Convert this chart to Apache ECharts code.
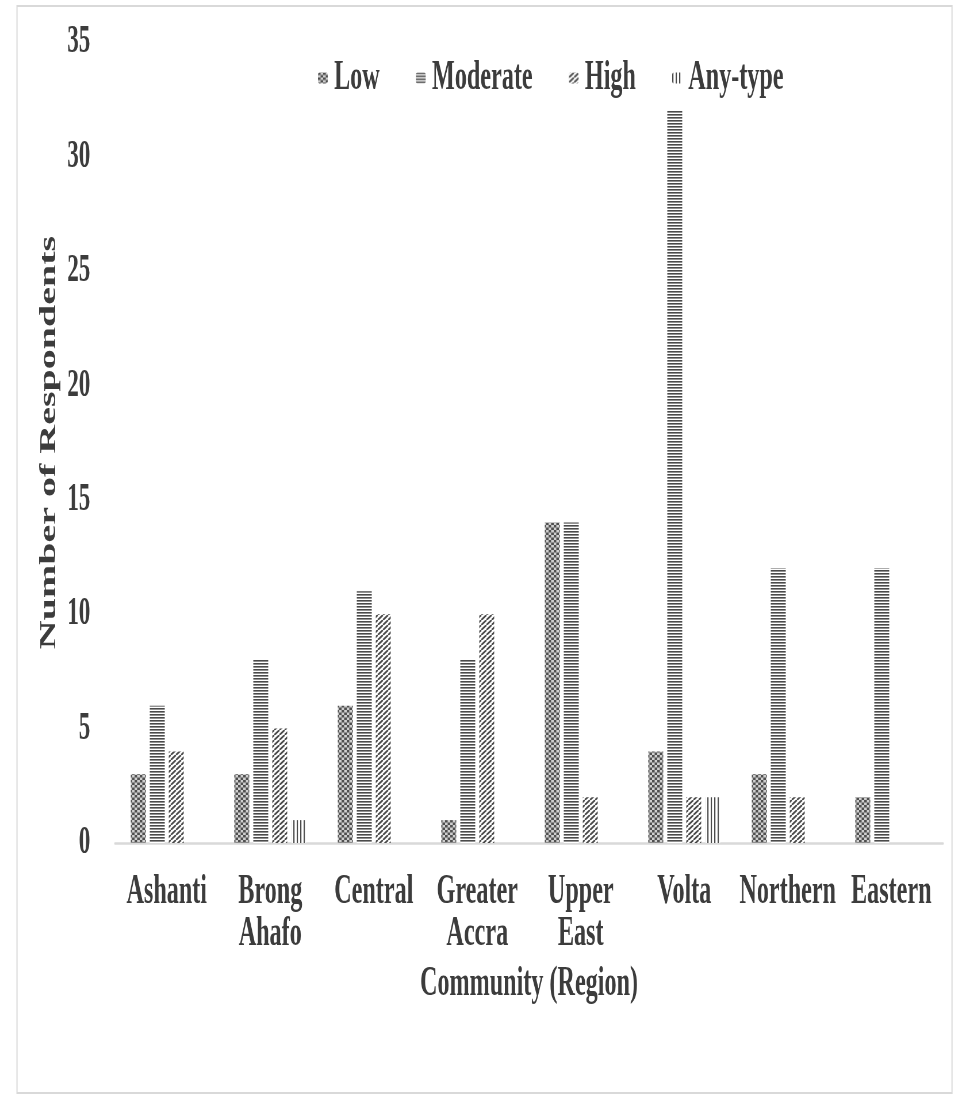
<!DOCTYPE html>
<html>
<head>
<meta charset="utf-8">
<title>Number of Respondents by Community (Region)</title>
<script src="https://cdn.jsdelivr.net/npm/echarts@6/dist/echarts.min.js"></script>
<style>
  html, body { margin: 0; padding: 0; background: #ffffff; overflow: hidden; }
  /* The chart is laid out wide and squeezed horizontally, giving the condensed serif look */
  #chart { width: 1670px; height: 1102px; transform: scaleX(0.575); transform-origin: 0 0; }
</style>
</head>
<body>
<div id="chart"></div>
<script>
// ---- data ----
const regions = ['Ashanti', 'Brong\nAhafo', 'Central', 'Greater\nAccra', 'Upper\nEast', 'Volta', 'Northern', 'Eastern'];
const low      = [3, 3, 6, 1, 14, 4, 3, 2];
const moderate = [6, 8, 11, 8, 14, 32, 12, 12];
const high     = [4, 5, 10, 10, 2, 2, 2, 0];
const anyType  = [0, 1, 0, 0, 0, 2, 0, 0];
const yTicks   = [0, 5, 10, 15, 20, 25, 30, 35];

const SX = 0.575;            // horizontal squeeze applied by CSS
const FONT = "'Liberation Serif', 'Times New Roman', serif";
const INK = '#3c3c3c';

// ---- fill patterns (drawn in the wide, un-squeezed space) ----
function makeCanvas(w, h, draw) {
  const c = document.createElement('canvas');
  c.width = w; c.height = h;
  const g = c.getContext('2d');
  draw(g, w, h);
  return { image: c, repeat: 'repeat' };
}
const checker = makeCanvas(9, 5, (g, w, h) => {
  g.fillStyle = '#cfcfcf'; g.fillRect(0, 0, w, h);
  g.fillStyle = '#4f4f4f';
  g.fillRect(0, 0, w / 2, h / 2);
  g.fillRect(w / 2, h / 2, w / 2, h / 2);
});
const hLines = makeCanvas(4, 3, (g, w, h) => {
  g.fillStyle = '#ffffff'; g.fillRect(0, 0, w, h);
  g.fillStyle = '#4a4a4a'; g.fillRect(0, 0, w, 1.6);
});
const diag = makeCanvas(9, 5, (g, w, h) => {
  g.fillStyle = '#ffffff'; g.fillRect(0, 0, w, h);
  g.strokeStyle = '#4a4a4a'; g.lineWidth = 2.2;
  for (const dx of [-w, 0, w]) {
    g.beginPath(); g.moveTo(dx, h); g.lineTo(dx + w, 0); g.stroke();
  }
});
const vLines = makeCanvas(6, 2, (g, w, h) => {
  g.fillStyle = '#ffffff'; g.fillRect(0, 0, w, h);
  g.fillStyle = '#4a4a4a'; g.fillRect(0, 0, 2.2, h);
});

function barSeries(name, data, fill) {
  return {
    name, type: 'bar', data,
    barWidth: 26, barGap: '27%',
    itemStyle: { color: fill },
    emphasis: { disabled: true }
  };
}

const chart = echarts.init(document.getElementById('chart'), null, { renderer: 'canvas' });
chart.setOption({
  animation: false,
  backgroundColor: '#ffffff',
  textStyle: { fontFamily: FONT, color: INK },
  graphic: [{
    type: 'rect',
    shape: { x: 17 / SX, y: 6, width: (952 - 17) / SX, height: 1087 },
    style: { fill: 'none', stroke: '#d9d9d9', lineWidth: 2 },
    silent: true
  }],
  legend: {
    left: 548, top: 52,
    itemWidth: 17, itemHeight: 11, itemGap: 63,
    textStyle: { fontFamily: FONT, fontSize: 42, fontWeight: 'bold', color: INK, padding: [0, 0, 0, 6] },
    data: ['Low', 'Moderate', 'High', 'Any-type']
  },
  grid: { left: 200, right: 30, top: 42, bottom: 259, containLabel: false },
  xAxis: {
    type: 'category',
    data: regions,
    name: 'Community (Region)',
    nameLocation: 'middle',
    nameGap: 120,
    nameTextStyle: { fontFamily: FONT, fontSize: 42, fontWeight: 'bold', color: INK },
    axisLine: { lineStyle: { color: '#d9d9d9', width: 2.5 } },
    axisTick: { show: false },
    axisLabel: {
      interval: 0, margin: 28,
      fontFamily: FONT, fontSize: 42, fontWeight: 'bold', color: INK, lineHeight: 42
    }
  },
  yAxis: {
    type: 'value',
    min: yTicks[0], max: yTicks[yTicks.length - 1], interval: 5,
    name: 'Number of Respondents',
    nameLocation: 'middle',
    nameGap: 81,
    nameTextStyle: { fontFamily: FONT, fontSize: 40, fontWeight: 'bold', color: INK },
    axisLine: { show: false },
    axisTick: { show: false },
    splitLine: { show: false },
    axisLabel: { margin: 43, fontFamily: FONT, fontSize: 40, fontWeight: 'bold', color: INK }
  },
  series: [
    barSeries('Low', low, checker),
    barSeries('Moderate', moderate, hLines),
    barSeries('High', high, diag),
    barSeries('Any-type', anyType, vLines)
  ]
});
</script>
</body>
</html>
